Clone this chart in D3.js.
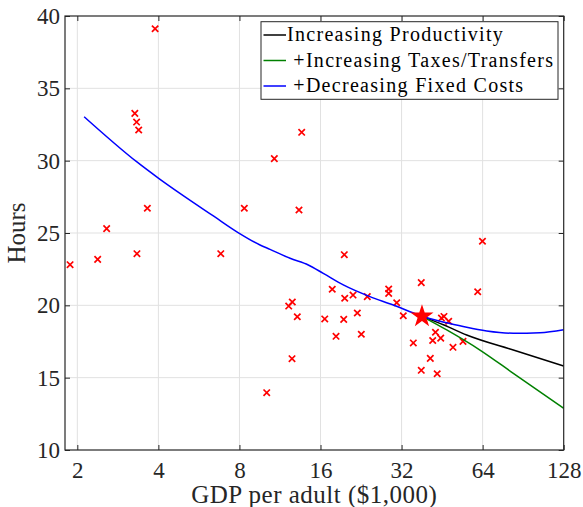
<!DOCTYPE html>
<html>
<head>
<meta charset="utf-8">
<script src="https://cdn.jsdelivr.net/npm/d3@7"></script>
<style>
  body { margin: 0; background: #fff; }
  svg text { font-family: "Liberation Serif", "Times New Roman", serif; }
</style>
</head>
<body>
<svg id="chart"></svg>
<script>

/////////////////////////////////
// DATA
/////////////////////////////////

var xTicks = [2, 4, 8, 16, 32, 64, 128];
var yTicks = [10, 15, 20, 25, 30, 35, 40];

// countries: GDP per adult ($1,000) and hours
var gdp = [1.88, 2.38, 2.57, 3.27, 3.32, 3.38, 3.89, 3.64, 3.33, 6.82, 8.34, 10.78,
  13.62, 13.31, 10.10, 12.57, 12.19, 13.12, 12.54, 16.59, 17.69, 18.27, 19.61, 19.51,
  19.68, 21.13, 21.92, 22.68, 23.87, 28.66, 28.66, 30.70, 32.47, 37.87, 35.38, 37.87,
  40.91, 43.39, 41.76, 44.72, 42.76, 45.0, 45.98, 47.87, 54.1, 49.67, 61.35, 63.9];
var hours = [22.81, 23.18, 25.30, 33.27, 32.67, 32.12, 39.12, 26.71, 23.57, 23.57, 26.71, 30.14,
  31.96, 26.59, 13.96, 20.23, 19.95, 19.21, 16.31, 19.06, 21.11, 17.86, 23.50, 19.03,
  20.49, 20.71, 19.47, 18.0, 20.60, 21.13, 20.83, 20.18, 19.28, 21.57, 17.40, 15.51,
  16.33, 15.27, 17.57, 17.73, 18.14, 19.12, 19.23, 18.90, 17.51, 17.10, 20.94, 24.43];

// US point
var starGdp = 38.1;
var starHours = 19.24;

// Decreasing fixed costs (blue)
var blueGdp = [2.12, 3.32, 4.01, 4.81, 6.40, 7.99, 9.54, 10.39, 12.33, 14.41, 16.38,
  19.44, 24.42, 29.82, 34.39, 38.1, 47.07, 55.84, 66.27, 83.2, 104.5, 128];
var blueHours = [33.04, 29.93, 28.78, 27.74, 26.18, 24.98, 24.17, 23.87, 23.25, 22.79, 22.21,
  21.41, 20.60, 20.02, 19.56, 19.24, 18.80, 18.48, 18.23, 18.07, 18.11, 18.32];

// Increasing productivity (black)
var blackGdp = [38.1, 45.98, 55.84, 83.2, 128];
var blackHours = [19.24, 18.64, 17.95, 16.91, 15.81];

// Increasing taxes/transfers (green)
var greenGdp = [38.1, 47.07, 62.56, 83.2, 128];
var greenHours = [19.24, 18.30, 16.91, 15.30, 12.88];

var legendLabels = ["Increasing Productivity", " +Increasing Taxes/Transfers", " +Decreasing Fixed Costs"];
var legendColors = ["#000000", "#008000", "#0000ff"];

/////////////////////////////////
// SETUP
/////////////////////////////////

var width = 583, height = 507;
var margin = { top: 16, right: 19.3, bottom: 57, left: 65 };

var svg = d3.select("#chart")
    .attr("width", width)
    .attr("height", height);

var x = d3.scaleLog().base(2)
    .domain([1.8, 128])
    .range([margin.left, width - margin.right]);

var y = d3.scaleLinear()
    .domain([10, 40])
    .range([height - margin.bottom, margin.top]);

var axisColor = "#262626";

/////////////////////////////////
// GRID
/////////////////////////////////

var grid = svg.append("g").attr("stroke", "#e1e1e1").attr("stroke-width", 1);

grid.selectAll(".vg").data(xTicks.slice(0, -1)).enter().append("line")
    .attr("x1", d => x(d)).attr("x2", d => x(d))
    .attr("y1", y(10)).attr("y2", y(40));

grid.selectAll(".hg").data(yTicks.slice(1, -1)).enter().append("line")
    .attr("x1", x(1.8)).attr("x2", x(128))
    .attr("y1", d => y(d)).attr("y2", d => y(d));

/////////////////////////////////
// SCATTER
/////////////////////////////////

var pts = gdp.map((g, i) => [g, hours[i]]);

svg.append("g").selectAll("path").data(pts).enter().append("path")
    .attr("transform", d => `translate(${x(d[0])},${y(d[1])})`)
    .attr("d", "M-3.2,-3.2L3.2,3.2M-3.2,3.2L3.2,-3.2")
    .attr("stroke", "#ff0000")
    .attr("stroke-width", 1.7)
    .attr("fill", "none");

/////////////////////////////////
// LINES
/////////////////////////////////

var line = d3.line()
    .x(d => x(d[0]))
    .y(d => y(d[1]))
    .curve(d3.curveMonotoneX);

var series = [
    { xs: blackGdp, ys: blackHours, color: legendColors[0] },
    { xs: greenGdp, ys: greenHours, color: legendColors[1] },
    { xs: blueGdp, ys: blueHours, color: legendColors[2] }
];

series.forEach(function(s) {
    svg.append("path")
        .datum(s.xs.map((v, i) => [v, s.ys[i]]))
        .attr("d", line)
        .attr("fill", "none")
        .attr("stroke", s.color)
        .attr("stroke-width", 1.5);
});

// star
svg.append("path")
    .attr("transform", `translate(${x(starGdp)},${y(starHours)})`)
    .attr("d", d3.symbol(d3.symbolStar).size(165)())
    .attr("fill", "#ff0000");

/////////////////////////////////
// AXES
/////////////////////////////////

var gx = svg.append("g")
    .attr("transform", `translate(0,${y(10)})`)
    .call(d3.axisBottom(x).tickValues(xTicks).tickSize(-5).tickFormat(d => d));
gx.select(".domain").remove();
gx.selectAll("line").attr("stroke", axisColor);
gx.selectAll("text")
    .attr("y", 28).attr("dy", null)
    .attr("fill", axisColor)
    .style("font-size", "23px")
    .style("font-family", '"Liberation Serif", serif');

var gy = svg.append("g")
    .attr("transform", `translate(${x(1.8)},0)`)
    .call(d3.axisLeft(y).tickValues(yTicks).tickSize(-5).tickFormat(d => d));
gy.select(".domain").remove();
gy.selectAll("line").attr("stroke", axisColor);
gy.selectAll("text")
    .attr("x", -5).attr("dy", "7.6px")
    .attr("fill", axisColor)
    .style("font-size", "23px")
    .style("font-family", '"Liberation Serif", serif');

var gt = svg.append("g")
    .attr("transform", `translate(0,${y(40)})`)
    .call(d3.axisTop(x).tickValues(xTicks).tickSize(-5).tickFormat(""));
gt.select(".domain").remove();
gt.selectAll("line").attr("stroke", axisColor);

var gr = svg.append("g")
    .attr("transform", `translate(${x(128)},0)`)
    .call(d3.axisRight(y).tickValues(yTicks).tickSize(-5).tickFormat(""));
gr.select(".domain").remove();
gr.selectAll("line").attr("stroke", axisColor);

// box
svg.append("rect")
    .attr("x", x(1.8)).attr("y", y(40))
    .attr("width", x(128) - x(1.8))
    .attr("height", y(10) - y(40))
    .attr("fill", "none")
    .attr("stroke", axisColor)
    .attr("stroke-width", 1.2);

// labels
svg.append("text")
    .attr("x", (x(1.8) + x(128)) / 2)
    .attr("y", 503)
    .attr("text-anchor", "middle")
    .attr("fill", axisColor)
    .style("font-size", "25px")
    .style("letter-spacing", "0.5px")
    .text("GDP per adult ($1,000)");

svg.append("text")
    .attr("transform", `translate(25,${(y(10) + y(40)) / 2}) rotate(-90)`)
    .attr("text-anchor", "middle")
    .attr("fill", axisColor)
    .style("font-size", "25px")
    .text("Hours");

/////////////////////////////////
// LEGEND
/////////////////////////////////

var legend = svg.append("g");

legend.append("rect")
    .attr("x", 261).attr("y", 21.7)
    .attr("width", 297).attr("height", 77.6)
    .attr("fill", "#fff")
    .attr("stroke", axisColor)
    .attr("stroke-width", 1);

legendLabels.forEach(function(lab, i) {
    var ly = 35 + i * 25.5;
    legend.append("line")
        .attr("x1", 263.5).attr("x2", 286)
        .attr("y1", ly).attr("y2", ly)
        .attr("stroke", legendColors[i])
        .attr("stroke-width", 1.5);
    legend.append("text")
        .attr("x", 287)
        .attr("y", ly + 6)
        .attr("fill", "#000")
        .style("font-size", "20px")
        .style("letter-spacing", "1.3px")
        .style("white-space", "pre")
        .text(lab);
});

</script>
</body>
</html>
